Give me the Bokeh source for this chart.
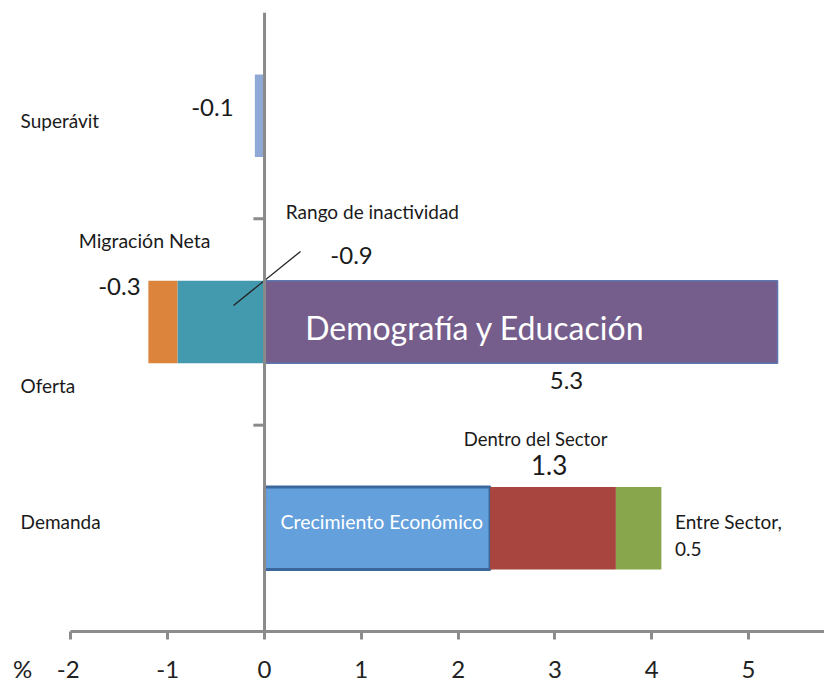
from bokeh.plotting import figure
from bokeh.models import Range1d, FixedTicker, Span, Label
from bokeh.embed import file_html
from bokeh.resources import INLINE

# ---- data ----
categories = ["Demanda", "Oferta", "Superávit"]          # bottom -> top
superavit_names = ["Superávit"]
superavit_values = [-0.1]
oferta_neg_names = ["Rango de inactividad", "Migración Neta"]   # stacked leftwards
oferta_neg_values = [-0.9, -0.3]
oferta_pos_names = ["Demografía y Educación"]
oferta_pos_values = [5.3]
demanda_names = ["Crecimiento Económico", "Dentro del Sector", "Entre Sector"]
demanda_values = [2.33, 1.3, 0.47]
x_ticks = [-2, -1, 0, 1, 2, 3, 4, 5]
unit_label = "%"

FONT = "Lato"

p = figure(frame_width=816, frame_height=619,
           x_range=Range1d(-2.645, 5.785), y_range=Range1d(0, 3),
           min_border_left=8, min_border_right=0, min_border_top=12, min_border_bottom=50,
           output_backend="svg", toolbar_location=None, y_axis_location=None)
p.outline_line_color = None
p.xgrid.visible = False
p.ygrid.visible = False
p.background_fill_color = "white"
p.border_fill_color = "white"

ypos = {c: i + 0.5 for i, c in enumerate(categories)}
H = 0.4

# Superávit
p.hbar(y=[ypos["Superávit"]], left=[0], right=superavit_values, height=H,
       fill_color="#8fa9d7", line_color=None)

# Oferta negatives stacked
neg_cols = ["#4399ad", "#dc843c"]
start = 0.0
for v, c in zip(oferta_neg_values, neg_cols):
    p.hbar(y=[ypos["Oferta"]], left=[start + v], right=[start], height=H,
           fill_color=c, line_color=None)
    start += v
# Oferta positive
p.hbar(y=[ypos["Oferta"]], left=[0], right=oferta_pos_values, height=H,
       fill_color="#755e8c", line_color="#5f77b0", line_width=1.5)

# Demanda stacked
dem_cols = ["#64a0dc", "#a8453f", "#88a64b"]
dem_lines = ["#3a679c", None, None]
start = 0.0
for v, c, lc in zip(demanda_values, dem_cols, dem_lines):
    p.hbar(y=[ypos["Demanda"]], left=[start], right=[start + v], height=H,
           fill_color=c, line_color=lc, line_width=3 if lc else 0)
    start += v

# vertical zero line with category separators
p.add_layout(Span(location=0, dimension="height", line_color="#8a8a8a", line_width=3))
seps = [1, 2]
p.segment(x0=[-0.115] * len(seps), x1=[0] * len(seps), y0=seps, y1=seps,
          line_color="#8a8a8a", line_width=3)

# leader line for "Rango de inactividad"
p.segment(x0=[-0.32], y0=[1.58], x1=[0.372], y1=[1.842], line_color="#222222", line_width=1.3)

# x axis
ax = p.xaxis[0]
ax.ticker = FixedTicker(ticks=x_ticks)
overrides = {t: str(t) for t in x_ticks}
NB = "\u00a0"
# unit sign sits to the left of the first tick label (padding keeps "-2" centred on its tick)
overrides[x_ticks[0]] = unit_label + NB * 4 + str(x_ticks[0]) + NB * 8
ax.major_label_overrides = overrides
ax.bounds = (-2, 5.785)
ax.axis_line_color = "#8c8c8c"
ax.axis_line_width = 3
ax.major_tick_line_color = "#8c8c8c"
ax.major_tick_line_width = 3
ax.major_tick_out = 8
ax.major_tick_in = 0
ax.minor_tick_line_color = None
ax.major_label_text_font = FONT
ax.major_label_text_font_size = "24px"
ax.major_label_text_color = "#222222"
ax.major_label_standoff = 14

def lab(text, x, y, size, align="left", color="#1a1a1a"):
    p.add_layout(Label(x=x, y=y, text=text, text_font=FONT, text_font_size=size,
                       text_align=align, text_baseline="middle", text_color=color))

lab("Superávit", -2.52, 2.477, "19px")
lab("Oferta", -2.52, 1.192, "19px")
lab("Demanda", -2.52, 0.533, "19px")
lab("-0.1", -0.32, 2.54, "24px", align="right")
lab("Rango de inactividad", 0.22, 2.036, "19px")
lab("Migración Neta", -1.92, 1.895, "19.5px")
lab("-0.9", 0.68, 1.822, "24px")
lab("-0.3", -1.28, 1.672, "24px", align="right")
lab("Demografía y Educación", 0.42, 1.473, "32px", color="white")
lab("5.3", 3.12, 1.217, "24px", align="center")
lab("Dentro del Sector", 2.80, 0.935, "18.5px", align="center")
lab("1.3", 2.94, 0.805, "26px", align="center")
lab("Crecimiento Económico", 0.165, 0.533, "19.5px", color="white")
lab("Entre Sector,", 4.24, 0.533, "19px")
lab("0.5", 4.24, 0.402, "19px")

open("out.html", "w").write(file_html(p, INLINE))
